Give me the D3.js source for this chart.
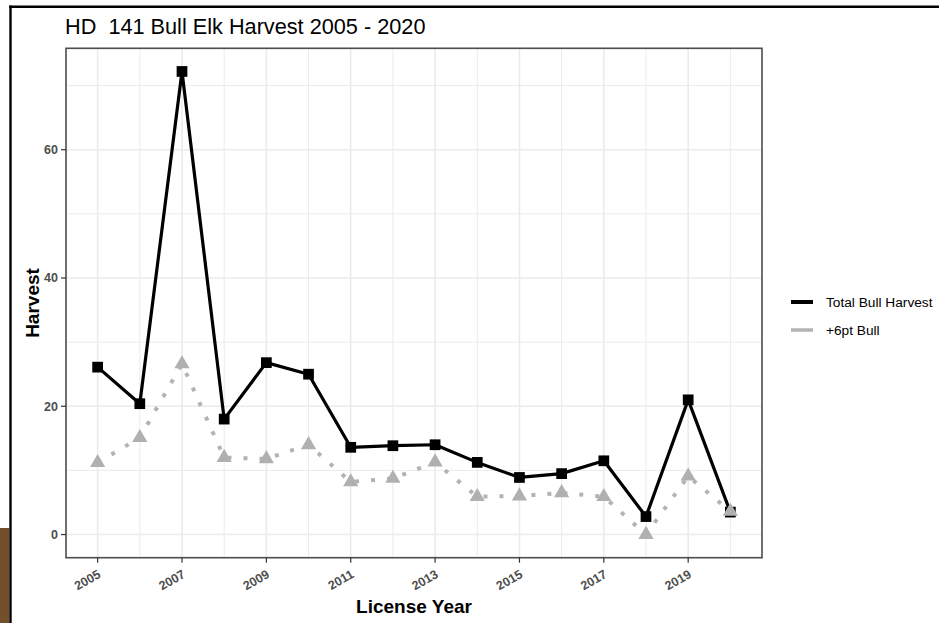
<!DOCTYPE html>
<html>
<head>
<meta charset="utf-8">
<script src="https://cdn.jsdelivr.net/npm/d3@7"></script>
<style>
html,body{margin:0;padding:0;background:#fff;}
svg{display:block;font-family:"Liberation Sans",Arial,sans-serif;}
</style>
</head>
<body>
<svg id="chart" width="939" height="623"></svg>
<script>
const years = [2005,2006,2007,2008,2009,2010,2011,2012,2013,2014,2015,2016,2017,2018,2019,2020];
const totalBull = [26.1,20.4,72.2,18.0,26.8,25.0,13.6,13.85,14.0,11.25,8.9,9.5,11.5,2.8,21.0,3.5];
const sixPtBull = [11.2,15.1,26.6,12.0,11.8,14.0,8.2,8.75,11.3,5.9,6.0,6.5,5.9,0,9.1,3.6];
const xTicks = [2005,2007,2009,2011,2013,2015,2017,2019];
const xMinor = [2006,2008,2010,2012,2014,2016,2018,2020];
const yTicks = [0,20,40,60];
const yMinor = [10,30,50,70];
const seriesNames = ["Total Bull Harvest","+6pt Bull"];

const svg = d3.select("#chart");
const W = 939, H = 623;
const P = {left:66, right:762, top:48.3, bottom:557.7};

// outer decorations
svg.append("rect").attr("x",0).attr("y",528).attr("width",9.5).attr("height",H-528).attr("fill","#71502b");
svg.append("line").attr("x1",10.5).attr("x2",10.5).attr("y1",5.5).attr("y2",H).attr("stroke","#000").attr("stroke-width",2.4);
svg.append("line").attr("x1",9.3).attr("x2",W).attr("y1",6.8).attr("y2",6.8).attr("stroke","#000").attr("stroke-width",2.6);

// scales with ggplot-like 5% expansion
const xr = d3.extent(years), xe = (xr[1]-xr[0])*0.05;
const x = d3.scaleLinear().domain([xr[0]-xe, xr[1]+xe]).range([P.left, P.right]);
const allY = totalBull.concat(sixPtBull);
const yr = [d3.min(allY), d3.max(allY)], ye = (yr[1]-yr[0])*0.05;
const y = d3.scaleLinear().domain([yr[0]-ye, yr[1]+ye]).range([P.bottom, P.top]);

// panel background
svg.append("rect").attr("x",P.left).attr("y",P.top).attr("width",P.right-P.left).attr("height",P.bottom-P.top).attr("fill","#fff");

const grid = svg.append("g");
grid.selectAll(".ymin").data(yMinor).join("line")
  .attr("x1",P.left).attr("x2",P.right).attr("y1",d=>y(d)).attr("y2",d=>y(d))
  .attr("stroke","#ebebeb").attr("stroke-width",1);
grid.selectAll(".xmin").data(xMinor).join("line")
  .attr("y1",P.top).attr("y2",P.bottom).attr("x1",d=>x(d)).attr("x2",d=>x(d))
  .attr("stroke","#ebebeb").attr("stroke-width",1);
grid.selectAll(".ymaj").data(yTicks).join("line")
  .attr("x1",P.left).attr("x2",P.right).attr("y1",d=>y(d)).attr("y2",d=>y(d))
  .attr("stroke","#ebebeb").attr("stroke-width",1.6);
grid.selectAll(".xmaj").data(xTicks).join("line")
  .attr("y1",P.top).attr("y2",P.bottom).attr("x1",d=>x(d)).attr("x2",d=>x(d))
  .attr("stroke","#ebebeb").attr("stroke-width",1.6);

// series
const dataTotal = years.map((yy,i)=>({x:yy,y:totalBull[i]}));
const dataSix = years.map((yy,i)=>({x:yy,y:sixPtBull[i]}));
const line = d3.line().x(d=>x(d.x)).y(d=>y(d.y));

svg.append("path").datum(dataTotal).attr("d",line).attr("fill","none")
  .attr("stroke","#000").attr("stroke-width",3.2).attr("stroke-linejoin","round");
svg.append("path").datum(dataSix).attr("d",line).attr("fill","none")
  .attr("stroke","#b3b3b3").attr("stroke-width",4).attr("stroke-dasharray","4 12");

const sq = d3.symbol().type(d3.symbolSquare).size(115);
svg.append("g").selectAll("path").data(dataTotal).join("path")
  .attr("d",sq).attr("transform",d=>`translate(${x(d.x)},${y(d.y)})`).attr("fill","#000");
const tri = d3.symbol().type(d3.symbolTriangle).size(100);
svg.append("g").selectAll("path").data(dataSix).join("path")
  .attr("d",tri).attr("transform",d=>`translate(${x(d.x)},${y(d.y)})`).attr("fill","#b0b0b0");

// panel border
svg.append("rect").attr("x",P.left).attr("y",P.top).attr("width",P.right-P.left).attr("height",P.bottom-P.top)
  .attr("fill","none").attr("stroke","#4d4d4d").attr("stroke-width",1.6);

// axes ticks
const ax = svg.append("g");
ax.selectAll(".yt").data(yTicks).join("line")
  .attr("x1",P.left-5).attr("x2",P.left).attr("y1",d=>y(d)).attr("y2",d=>y(d))
  .attr("stroke","#333").attr("stroke-width",1.2);
ax.selectAll(".ytl").data(yTicks).join("text")
  .attr("x",P.left-8).attr("y",d=>y(d)+4.5).attr("text-anchor","end")
  .attr("font-size",12.5).attr("font-weight","bold").attr("fill","#4d4d4d").text(d=>d);
ax.selectAll(".xt").data(xTicks).join("line")
  .attr("y1",P.bottom).attr("y2",P.bottom+5).attr("x1",d=>x(d)).attr("x2",d=>x(d))
  .attr("stroke","#333").attr("stroke-width",1.2);
ax.selectAll(".xtl").data(xTicks).join("text")
  .attr("transform",d=>`translate(${x(d)+4},${P.bottom+19}) rotate(-30)`)
  .attr("text-anchor","end").attr("font-size",12.5).attr("font-weight","bold").attr("fill","#4d4d4d").text(d=>d);

// titles
svg.append("text").attr("x",65).attr("y",34).attr("font-size",21.7).attr("fill","#000")
  .attr("xml:space","preserve").style("white-space","pre").text("HD  141 Bull Elk Harvest 2005 - 2020");
svg.append("text").attr("transform",`translate(39,${(P.top+P.bottom)/2}) rotate(-90)`)
  .attr("text-anchor","middle").attr("font-size",19).attr("font-weight","bold").text("Harvest");
svg.append("text").attr("x",(P.left+P.right)/2).attr("y",613)
  .attr("text-anchor","middle").attr("font-size",19).attr("font-weight","bold").text("License Year");

// legend
const lg = svg.append("g");
const legendColors = ["#000","#b3b3b3"];
seriesNames.forEach((n,i)=>{
  const yy = 302 + i*28;
  lg.append("line").attr("x1",791).attr("x2",813).attr("y1",yy).attr("y2",yy)
    .attr("stroke",legendColors[i]).attr("stroke-width",i===0?4:3.5);
  lg.append("text").attr("x",826).attr("y",yy+5).attr("font-size",13.7).attr("fill","#000").text(n);
});
</script>
</body>
</html>
